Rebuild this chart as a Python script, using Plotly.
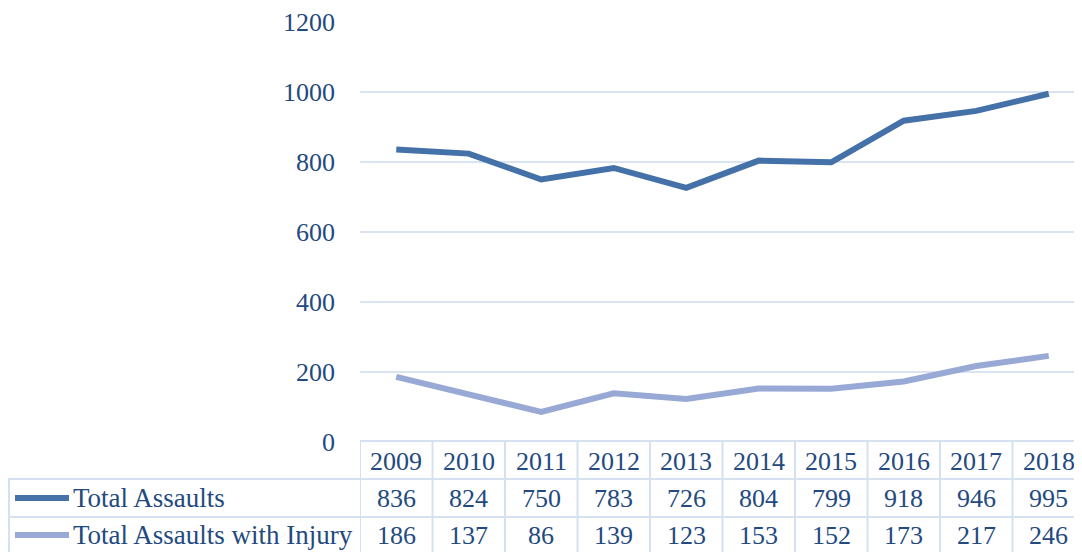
import plotly.graph_objects as go

years = ["2009", "2010", "2011", "2012", "2013", "2014", "2015", "2016", "2017", "2018"]
total_assaults = [836, 824, 750, 783, 726, 804, 799, 918, 946, 995]
assaults_injury = [186, 137, 86, 139, 123, 153, 152, 173, 217, 246]
series_names = ["Total Assaults", "Total Assaults with Injury"]
y_ticks = [0, 200, 400, 600, 800, 1000, 1200]

OFF = 8  # page body margin
W, H = 1082 - OFF, 552 - OFF
L, T = 360 - OFF, 22 - OFF
B = H - (442 - OFF)
PH = H - T - B
PW = W - L
FONT = "Liberation Serif"
TXT = "#234A80"
C1 = "#4571A9"
C2 = "#97A9D4"
GRID = "#D9E3F2"
BORDER = "#D5E0F0"

def py(pix):
    # page pixel -> paper y
    return (442 - pix) / PH

def px(pix):
    # page pixel -> paper x
    return (pix - 360) / PW

xs = list(range(len(years)))
fig = go.Figure()
fig.add_trace(go.Scatter(x=xs, y=total_assaults, mode="lines", name=series_names[0],
                         line=dict(color=C1, width=6), hoverinfo="skip"))
fig.add_trace(go.Scatter(x=xs, y=assaults_injury, mode="lines", name=series_names[1],
                         line=dict(color=C2, width=6), hoverinfo="skip"))

n = len(years)
cell = 72.5
xmax = -0.5 + PW / cell

shapes = []
shapes.append(dict(type="line", xref="paper", yref="paper", x0=0, x1=1, y0=py(441), y1=py(441),
                   line=dict(color=BORDER, width=2)))
for yy in (479, 517):
    shapes.append(dict(type="line", xref="paper", yref="paper", x0=px(8), x1=1, y0=py(yy), y1=py(yy),
                       line=dict(color=BORDER, width=2)))
shapes.append(dict(type="line", xref="paper", yref="paper", x0=px(9), x1=px(9), y0=py(479), y1=py(556),
                   line=dict(color=BORDER, width=2)))
for k in range(n + 1):
    shapes.append(dict(type="line", xref="x", yref="paper", x0=k - 0.5, x1=k - 0.5, y0=py(441), y1=py(556),
                       line=dict(color=BORDER, width=2)))
for yy, c in ((498, C1), (535, C2)):
    shapes.append(dict(type="line", xref="paper", yref="paper", x0=px(15), x1=px(69), y0=py(yy), y1=py(yy),
                       line=dict(color=c, width=6)))

ann = []
fs = 26
for i, yr in enumerate(years):
    ann.append(dict(x=i, y=py(461), xref="x", yref="paper", text=yr, showarrow=False,
                    font=dict(family=FONT, size=fs, color=TXT), xanchor="center", yanchor="middle"))
    ann.append(dict(x=i, y=py(498), xref="x", yref="paper", text=str(total_assaults[i]), showarrow=False,
                    font=dict(family=FONT, size=fs, color=TXT), xanchor="center", yanchor="middle"))
    ann.append(dict(x=i, y=py(535), xref="x", yref="paper", text=str(assaults_injury[i]), showarrow=False,
                    font=dict(family=FONT, size=fs, color=TXT), xanchor="center", yanchor="middle"))
for name, yy in zip(series_names, (498, 535)):
    ann.append(dict(x=px(71), y=py(yy), xref="paper", yref="paper", text=name, showarrow=False,
                    font=dict(family=FONT, size=27, color=TXT), xanchor="left", yanchor="middle"))

fig.update_layout(
    width=W, height=H,
    margin=dict(l=L, r=0, t=T, b=B, pad=0),
    paper_bgcolor="white", plot_bgcolor="white",
    showlegend=False,
    font=dict(family=FONT),
    shapes=shapes, annotations=ann,
    xaxis=dict(range=[-0.5, xmax], showgrid=False, zeroline=False, showticklabels=False,
               showline=False, fixedrange=True),
    yaxis=dict(range=[0, 1200], tickvals=y_ticks, ticktext=[str(v) for v in y_ticks],
               showgrid=True, gridcolor=GRID, gridwidth=2, zeroline=False, showline=False,
               tickfont=dict(family=FONT, size=fs, color=TXT), ticks="", ticklabelstandoff=24,
               fixedrange=True),
)
fig.write_html("out.html")
